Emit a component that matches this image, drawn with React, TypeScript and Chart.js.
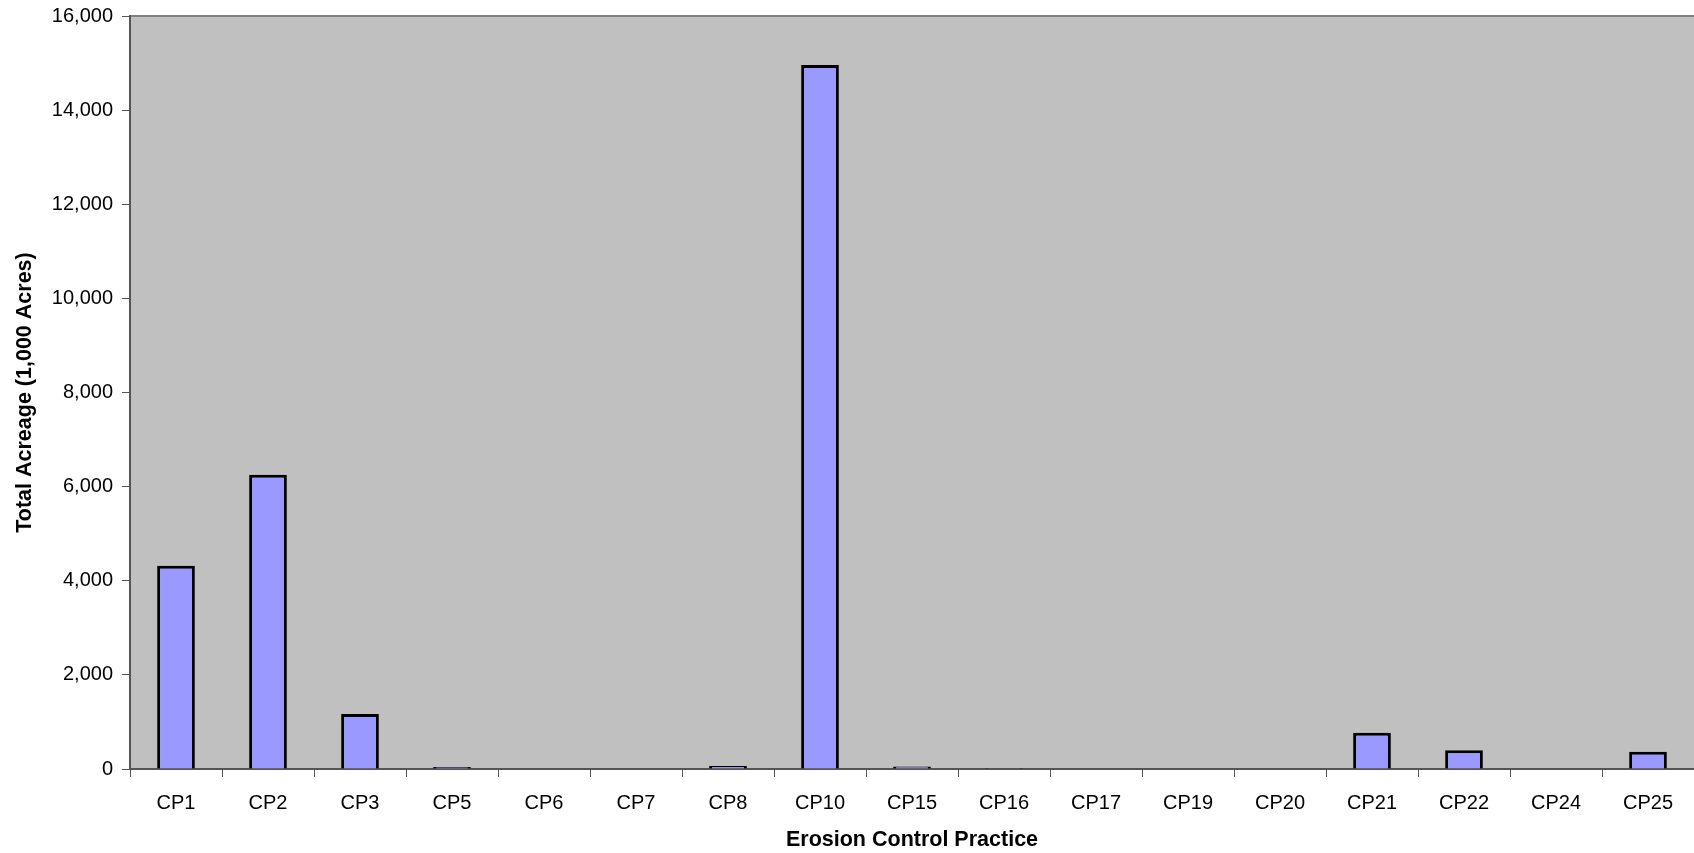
import React, { useEffect, useRef } from "react";
import { Chart, registerables } from "chart.js";

Chart.register(...registerables);

const practices = [
  "CP1", "CP2", "CP3", "CP5", "CP6", "CP7", "CP8", "CP10", "CP15",
  "CP16", "CP17", "CP19", "CP20", "CP21", "CP22", "CP24", "CP25",
];

// Total acreage per practice, in thousands of acres
const acreage = [
  4320, 6250, 1170, 40, 0, 0, 65, 14960, 55,
  20, 0, 0, 0, 770, 400, 0, 365,
];

const yTicks = [0, 2000, 4000, 6000, 8000, 10000, 12000, 14000, 16000];

const FONT = "'Liberation Sans', Arial, Helvetica, sans-serif";

const plotBackground = {
  id: "plotBackground",
  beforeDraw(chart: any) {
    const { ctx, chartArea } = chart;
    ctx.save();
    ctx.fillStyle = "#C0C0C0";
    ctx.fillRect(chartArea.left, chartArea.top, chartArea.right - chartArea.left, chartArea.bottom - chartArea.top);
    ctx.strokeStyle = "#808080";
    ctx.lineWidth = 2;
    ctx.beginPath();
    ctx.moveTo(chartArea.left, chartArea.top);
    ctx.lineTo(chartArea.right, chartArea.top);
    ctx.stroke();
    ctx.restore();
  },
};

export default function App() {
  const ref = useRef<HTMLCanvasElement | null>(null);

  useEffect(() => {
    document.body.style.margin = "0";
    const chart = new Chart(ref.current as HTMLCanvasElement, {
      type: "bar",
      data: {
        labels: practices,
        datasets: [
          {
            data: acreage,
            backgroundColor: "#9999FF",
            borderColor: "#000000",
            borderWidth: (c: any) => (c.raw === 0 ? 0 : 3),
            borderSkipped: "start",
            categoryPercentage: 1,
            barPercentage: 0.41,
          },
        ],
      },
      options: {
        animation: false,
        responsive: false,
        layout: { padding: { top: 16, right: 0, left: 0, bottom: 0 } },
        plugins: {
          legend: { display: false },
          tooltip: { enabled: false },
        },
        scales: {
          x: {
            offset: true,
            grid: {
              offset: true,
              drawOnChartArea: false,
              drawTicks: true,
              tickLength: 8,
              color: "#555555",
            },
            border: { display: true, color: "#555555", width: 2 },
            ticks: {
              color: "#000",
              font: { family: FONT, size: 20 },
              padding: 14,
              maxRotation: 0,
              autoSkip: false,
            },
            title: {
              display: true,
              text: "Erosion Control Practice",
              color: "#000",
              font: { family: FONT, size: 21.5, weight: "bold" },
              padding: { top: 0, bottom: 0 },
            },
            afterFit(scale: any) {
              scale.height = 84;
              scale.paddingLeft = 0;
              scale.paddingRight = 0;
            },
          },
          y: {
            min: 0,
            max: 16000,
            afterBuildTicks(scale: any) {
              scale.ticks = yTicks.map((v) => ({ value: v }));
            },
            grid: {
              drawOnChartArea: false,
              drawTicks: true,
              tickLength: 8,
              color: "#555555",
            },
            border: { display: true, color: "#555555", width: 2 },
            ticks: {
              color: "#000",
              font: { family: FONT, size: 20 },
              padding: 9,
              callback: (v: any) => Number(v).toLocaleString("en-US"),
            },
            title: {
              display: true,
              text: "Total Acreage (1,000 Acres)",
              color: "#000",
              font: { family: FONT, size: 21.5, weight: "bold" },
              padding: { top: 12, bottom: 0 },
            },
            afterFit(scale: any) {
              scale.width = 130;
              scale.paddingTop = 0;
              scale.paddingBottom = 0;
            },
          },
        },
      },
      plugins: [plotBackground],
    } as any);
    return () => chart.destroy();
  }, []);

  return (
    <div style={{ position: "absolute", left: 0, top: 0, width: 1694, height: 853, background: "#fff" }}>
      <canvas ref={ref} width={1694} height={853} />
    </div>
  );
}
